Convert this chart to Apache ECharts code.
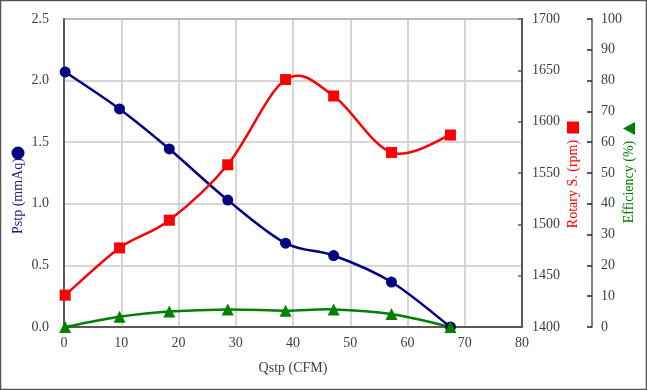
<!DOCTYPE html>
<html>
<head>
<meta charset="utf-8">
<script src="https://cdn.jsdelivr.net/npm/echarts@6/dist/echarts.min.js"></script>
<style>
html,body{margin:0;padding:0;background:#fff;}
#chart{width:647px;height:390px;}
</style>
</head>
<body>
<div id="chart"></div>
<script>
// Data
var qstp = [0.2, 9.7, 18.4, 28.6, 38.7, 47.1, 57.2, 67.5];          // CFM
var pstp = [2.07, 1.77, 1.445, 1.03, 0.68, 0.58, 0.365, 0.0];       // mmAq
var rpm = [1431, 1477, 1504, 1558, 1641, 1625, 1570, 1587];          // rpm
var eff = [0, 3.3, 5.0, 5.7, 5.3, 5.7, 4.2, 0];                      // %

var xName = 'Qstp (CFM)';
var pName = 'Pstp (mmAq)';
var rName = 'Rotary S. (rpm)';
var eName = 'Efficiency (%)';

function pairs(xs, ys){ return xs.map(function(x,i){ return [x, ys[i]]; }); }

var FONT = '"Liberation Serif", "DejaVu Serif", serif';
var AXC = '#595959';
var LBL = '#404040';

// Catmull-Rom style smooth curve (as in spreadsheet smoothed lines), drawn in pixel space from api.coord
function smoothLine(xs, ys, color, yIdx){
  return {
    type: 'custom', yAxisIndex: yIdx, data: pairs(xs, ys), silent: true,
    renderItem: function(params, api){
      if (params.dataIndex !== 0) return;
      var p = xs.map(function(x,i){ return api.coord([x, ys[i]]); });
      var n = p.length, kids = [];
      for (var i = 0; i < n - 1; i++){
        var p0 = p[Math.max(i-1,0)], p1 = p[i], p2 = p[i+1], p3 = p[Math.min(i+2,n-1)];
        kids.push({type: 'bezierCurve', shape: {
          x1: p1[0], y1: p1[1], x2: p2[0], y2: p2[1],
          cpx1: p1[0] + (p2[0]-p0[0])/6, cpy1: p1[1] + (p2[1]-p0[1])/6,
          cpx2: p2[0] - (p3[0]-p1[0])/6, cpy2: p2[1] - (p3[1]-p1[1])/6
        }, style: {stroke: color, lineWidth: 2.5, fill: null}});
      }
      return {type: 'group', children: kids};
    }
  };
}
function markers(xs, ys, color, yIdx, sym, size){
  return {type: 'scatter', yAxisIndex: yIdx, data: pairs(xs, ys), symbol: sym, symbolSize: size,
    itemStyle: {color: color, opacity: 1}};
}

var chart = echarts.init(document.getElementById('chart'));
chart.setOption({
  animation: false,
  backgroundColor: '#fff',
  textStyle: {fontFamily: FONT},
  grid: {left: 64, right: 125, top: 19, bottom: 63, show: true, borderColor: AXC, borderWidth: 1.5, containLabel: false},
  xAxis: {
    type: 'value', min: 0, max: 80, interval: 10,
    name: xName, nameLocation: 'middle', nameGap: 34,
    nameTextStyle: {fontFamily: FONT, fontSize: 14, color: LBL},
    axisLine: {show: true, lineStyle: {color: AXC, width: 2}},
    axisTick: {show: false},
    axisLabel: {fontFamily: FONT, fontSize: 14, color: LBL, margin: 9},
    splitLine: {show: true, lineStyle: {color: '#c8c8c8', width: 1.5}}
  },
  yAxis: [
    {
      type: 'value', min: 0, max: 2.5, interval: 0.5, position: 'left',
      axisLine: {show: true, lineStyle: {color: AXC, width: 2}},
      axisTick: {show: false},
      axisLabel: {fontFamily: FONT, fontSize: 14, color: LBL, margin: 15,
        formatter: function(v){ return v.toFixed(1); }},
      splitLine: {show: true, lineStyle: {color: '#c8c8c8', width: 1.5}}
    },
    {
      type: 'value', min: 1400, max: 1700, interval: 50, position: 'right', offset: 0,
      axisLine: {show: true, lineStyle: {color: AXC, width: 2}},
      axisTick: {show: true, inside: true, length: 4, lineStyle: {color: AXC, width: 1.5}},
      axisLabel: {fontFamily: FONT, fontSize: 14, color: LBL, margin: 10,
        formatter: function(v){ return String(v); }},
      splitLine: {show: false}
    },
    {
      type: 'value', min: 0, max: 100, interval: 10, position: 'right', offset: 70,
      axisLine: {show: true, lineStyle: {color: AXC, width: 1.5}},
      axisTick: {show: true, inside: true, length: 5, lineStyle: {color: '#222', width: 1.5}},
      axisLabel: {fontFamily: FONT, fontSize: 14, color: LBL, margin: 9},
      splitLine: {show: false}
    }
  ],
  series: [
    smoothLine(qstp, pstp, '#000080', 0),
    markers(qstp, pstp, '#000080', 0, 'circle', 11),
    smoothLine(qstp, rpm, '#ff0000', 1),
    markers(qstp, rpm, '#ff0000', 1, 'rect', 11),
    smoothLine(qstp, eff, '#008000', 2),
    markers(qstp, eff, '#008000', 2, 'triangle', 12)
  ],
  graphic: [
    {type: 'rect', shape: {x: 0.5, y: 0.5, width: 646, height: 389}, style: {fill: 'none', stroke: '#555', lineWidth: 1.5}, silent: true},
    {type: 'text', x: 18, y: 196, rotation: Math.PI/2,
      style: {text: pName, fill: '#1a1a80', font: '14px ' + FONT, textAlign: 'center', textVerticalAlign: 'middle'}},
    {type: 'circle', shape: {cx: 18, cy: 153, r: 6.5}, style: {fill: '#000080'}},
    {type: 'text', x: 573, y: 184, rotation: Math.PI/2,
      style: {text: rName, fill: '#ff0000', font: '14px ' + FONT, textAlign: 'center', textVerticalAlign: 'middle'}},
    {type: 'rect', shape: {x: 567, y: 121.5, width: 12, height: 12}, style: {fill: '#ff0000'}},
    {type: 'text', x: 629, y: 182, rotation: Math.PI/2,
      style: {text: eName, fill: '#008000', font: '14px ' + FONT, textAlign: 'center', textVerticalAlign: 'middle'}},
    {type: 'polygon', shape: {points: [[623, 128.5], [635, 122], [635, 135]]}, style: {fill: '#008000'}}
  ]
});
</script>
</body>
</html>
